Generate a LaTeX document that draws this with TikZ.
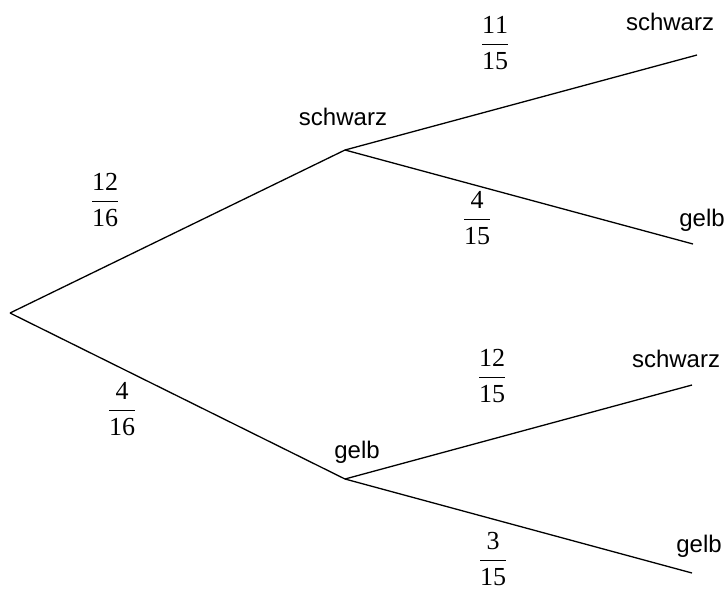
\documentclass[tikz,border=0pt]{standalone}
\usepackage{fix-cm}
\usepackage{amsmath}
\usepackage{fontspec}
\setmainfont{Liberation Serif}
\newfontfamily\labelfont{Liberation Sans}
\newcommand{\pfr}[2]{$\dfrac{\mathrm{#1}}{\mathrm{#2}}$}
\begin{document}
\begin{tikzpicture}[x=1pt,y=-1pt,
  branch/.style={line width=1.3pt, black},
  outcome/.style={font=\labelfont\fontsize{24}{28}\selectfont, inner sep=0pt},
  prob/.style={font=\fontsize{26}{30}\selectfont, inner sep=0pt}]
\useasboundingbox (0,0) rectangle (727,590);

% branching points of the tree
\coordinate (root) at (10,313);
\coordinate (s1) at (345,150);
\coordinate (g1) at (345,479);
\coordinate (ss) at (697,55);
\coordinate (sg) at (693,244);
\coordinate (gs) at (692,385);
\coordinate (gg) at (692,573);

% branches
\draw[branch] (root) -- (s1);
\draw[branch] (root) -- (g1);
\draw[branch] (s1) -- (ss);
\draw[branch] (s1) -- (sg);
\draw[branch] (g1) -- (gs);
\draw[branch] (g1) -- (gg);

% outcome labels
\node[outcome] (ls1) at (343,117) {schwarz};
\node[outcome] (lg1) at (357,452) {gelb};
\node[outcome] (lss) at (670,22) {schwarz};
\node[outcome] (lsg) at (702,220) {gelb};
\node[outcome] (lgs) at (676,359) {schwarz};
\node[outcome] (lgg) at (699,546) {gelb};

% probabilities
\node[prob] (p1) at (105,200) {\pfr{12}{16}};
\node[prob] (p2) at (122,409) {\pfr{4}{16}};
\node[prob] (p3) at (495,43) {\pfr{11}{15}};
\node[prob] (p4) at (477,218) {\pfr{4}{15}};
\node[prob] (p5) at (492,376) {\pfr{12}{15}};
\node[prob] (p6) at (493,559) {\pfr{3}{15}};
\end{tikzpicture}
\end{document}
